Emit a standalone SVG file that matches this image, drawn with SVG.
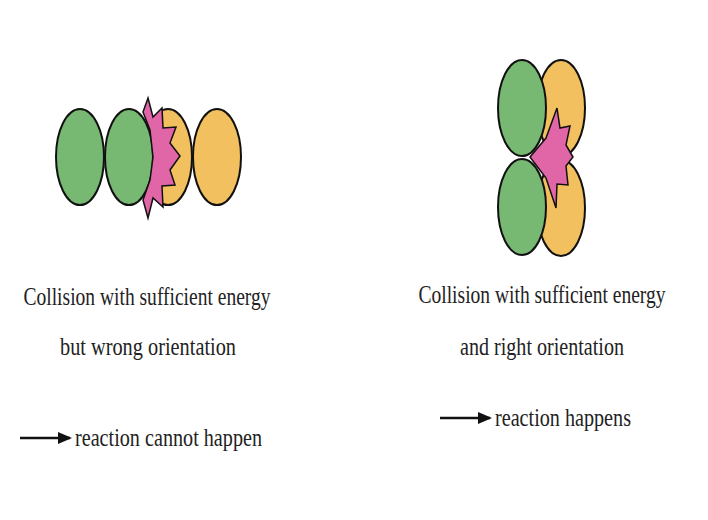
<svg xmlns="http://www.w3.org/2000/svg" width="708" height="520" viewBox="0 0 708 520">
<style>
.g{fill:#77b872;stroke:#111;stroke-width:2}
.o{fill:#f2c05e;stroke:#111;stroke-width:2}
.p{fill:#e066a8;stroke:#111;stroke-width:1.5}
text{font-family:"Liberation Serif",serif;font-size:26px;fill:#222}
</style>
<defs><marker id="ah" markerWidth="14" markerHeight="12" refX="12" refY="6" orient="auto" markerUnits="userSpaceOnUse"><path d="M0,0 L14,6 L0,12 z" fill="#111"/></marker></defs>
<rect width="708" height="520" fill="#fff"/>
<g id="left-molecules">
<ellipse class="g" cx="80" cy="157" rx="24" ry="48"/>
<ellipse class="o" cx="217" cy="157" rx="24" ry="48"/>
<ellipse class="o" cx="168" cy="157" rx="24" ry="48"/>
<ellipse class="g" cx="129" cy="157" rx="24" ry="48"/>
<path class="p" d="M148,98 L153,117 L162,108 L163,128 L176,127 L170,143 L180,156 L170,170 L175,185 L162,186 L163,207 L153,198 L148,218 L143,200 L150,180 L153,157 L150,130 L143,112 Z"/>
</g>
<g id="right-molecules">
<ellipse class="o" cx="561" cy="108" rx="24" ry="48"/>
<ellipse class="o" cx="561" cy="208" rx="24" ry="48"/>
<ellipse class="g" cx="522" cy="108" rx="24" ry="48"/>
<ellipse class="g" cx="522" cy="207" rx="24" ry="48"/>
<path class="p" d="M530,157 L546,138 L557,108 L560,128 L570,126 L566,145 L573,157 L566,166 L568,185 L557,184 L556,208 L546,178 Z"/>
</g>
<g id="left-label">
<text x="147" y="305" text-anchor="middle" textLength="247" lengthAdjust="spacingAndGlyphs">Collision with sufficient energy</text>
<text x="148" y="355" text-anchor="middle" textLength="176" lengthAdjust="spacingAndGlyphs">but wrong orientation</text>
<text x="75" y="446" textLength="187" lengthAdjust="spacingAndGlyphs">reaction cannot happen</text>
</g>
<g id="right-label">
<text x="542" y="303" text-anchor="middle" textLength="247" lengthAdjust="spacingAndGlyphs">Collision with sufficient energy</text>
<text x="542" y="355" text-anchor="middle" textLength="164" lengthAdjust="spacingAndGlyphs">and right orientation</text>
<text x="495" y="426" textLength="136" lengthAdjust="spacingAndGlyphs">reaction happens</text>
</g>
<g id="connectors" stroke="#111" stroke-width="2.5">
<line x1="20" y1="438" x2="70" y2="438" marker-end="url(#ah)"/>
<line x1="440" y1="418" x2="490" y2="418" marker-end="url(#ah)"/>
</g>
</svg>
